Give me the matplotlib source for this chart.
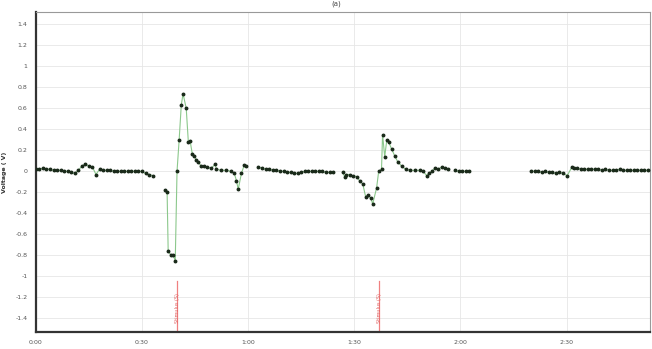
import numpy as np
import matplotlib.pyplot as plt
from matplotlib.ticker import FuncFormatter, MultipleLocator

# time in seconds, voltage in V; NaN marks a gap in the recording
t1 = [0, 1, 2, 3, 4, 5, 6, 7, 8, 9, 10, 11, 12, 13, 14, 15, 16, 17, 18, 19,
      20, 21, 22, 23, 24, 25, 26, 27, 28, 29, 30, 31, 32, 33]
v1 = [0.02, 0.02, 0.03, 0.02, 0.02, 0.01, 0.01, 0.01, 0.0, 0.0, -0.01, -0.02,
      0.01, 0.05, 0.07, 0.05, 0.04, -0.03, 0.02, 0.01, 0.01, 0.01, 0.0, 0.0,
      0.0, 0.0, 0.0, 0.0, 0.0, 0.0, 0.0, -0.02, -0.03, -0.04]

t2 = [36.5, 37.1, 37.4, 38.2, 38.8, 39.4, 39.9, 40.5, 41.1, 41.6, 42.5, 43.1,
      43.6, 44.2, 44.8, 45.3, 45.9, 46.7, 47.6, 48.4, 49.6, 50.7, 51.0, 52.4,
      53.8, 55.2, 56.1, 56.7, 57.2, 58.1, 58.9, 59.5]
v2 = [-0.18, -0.2, -0.76, -0.8, -0.8, -0.85, 0.0, 0.3, 0.63, 0.74, 0.6, 0.28,
      0.29, 0.17, 0.15, 0.11, 0.09, 0.05, 0.05, 0.04, 0.03, 0.07, 0.02, 0.01,
      0.01, 0.0, -0.02, -0.09, -0.17, -0.02, 0.06, 0.05]

t3 = [62.9, 64, 65, 66, 67, 68, 69, 70, 71, 72, 73, 74, 75, 76, 77, 78, 79,
      80, 81, 82, 83, 84]
v3 = [0.04, 0.03, 0.02, 0.02, 0.01, 0.01, 0.0, 0.0, -0.01, -0.01, -0.02,
      -0.02, -0.01, 0.0, 0.0, 0.0, 0.0, 0.0, 0.0, -0.01, -0.01, -0.01]

t4 = [86.7, 87.3, 87.8, 88.7, 89.5, 90.7, 91.5, 92.4, 93.2, 93.8, 94.6, 95.2,
      96.3, 96.9, 97.7, 98.0, 98.6, 99.2, 99.7, 100.6, 101.4, 102.3, 103.4,
      104.5, 105.7, 107.1, 108.5, 109.4, 110.5, 111.1, 111.9, 112.8, 113.6,
      114.7, 115.6, 116.4]
v4 = [-0.01, -0.05, -0.03, -0.03, -0.04, -0.05, -0.09, -0.12, -0.24, -0.23,
      -0.25, -0.31, -0.16, 0.0, 0.02, 0.35, 0.14, 0.3, 0.28, 0.21, 0.15, 0.09,
      0.05, 0.02, 0.01, 0.01, 0.01, 0.0, -0.04, -0.02, 0.0, 0.03, 0.02, 0.04,
      0.03, 0.02]

t5 = [118.5, 119.5, 120.5, 121.5, 122.4]
v5 = [0.01, 0.0, 0.0, 0.0, 0.0]

t6 = [140, 141, 142, 143, 144, 145, 146, 147, 148, 149, 150.2, 151.5, 152,
      153, 154, 155, 156, 157, 158, 159, 160, 161, 162, 163, 164, 165, 166,
      167, 168, 169, 170, 171, 172, 173]
v6 = [0.0, 0.0, 0.0, -0.01, 0.0, -0.01, -0.01, -0.02, -0.01, -0.02, -0.04,
      0.04, 0.03, 0.03, 0.02, 0.02, 0.02, 0.02, 0.02, 0.02, 0.01, 0.02, 0.01,
      0.01, 0.01, 0.02, 0.01, 0.01, 0.01, 0.01, 0.01, 0.01, 0.01, 0.01]

segments = [(t1, v1), (t2, v2), (t3, v3), (t4, v4), (t5, v5), (t6, v6)]

marker_times = [40, 97]
marker_labels = ['Stimulus (S)', 'Stimulus (S)']

fig = plt.figure(figsize=(6.52, 3.49), dpi=100)
ax = fig.add_axes([0.055, 0.049, 0.942, 0.917])

for t, v in segments:
    ax.plot(t, v, color='#8cc88c', lw=0.8, marker='o', ms=1.8,
            mfc='#1a2a1a', mec='#1a2a1a', zorder=3)

for tm, lab in zip(marker_times, marker_labels):
    ax.axvline(tm, ymin=0, ymax=0.16, color='#f08080', lw=0.9, zorder=2)
    ax.text(tm, -1.3, lab, rotation=90, color='#e06060', fontsize=3.5,
            ha='center', va='center', zorder=4)

ax.set_xlim(0, 173.6)
ax.set_ylim(-1.53, 1.52)
ax.xaxis.set_major_locator(MultipleLocator(30))
ax.yaxis.set_major_locator(MultipleLocator(0.2))
ax.xaxis.set_major_formatter(FuncFormatter(
    lambda x, p: '%d:%02d' % (int(x) // 60, int(x) % 60)))
ax.yaxis.set_major_formatter(FuncFormatter(
    lambda y, p: '%g' % round(y, 1)))
ax.tick_params(labelsize=4.5, labelcolor='#555555', length=0, pad=6)
ax.grid(True, color='#e6e6e6', lw=0.6)
ax.set_axisbelow(True)

for side in ['left', 'bottom']:
    ax.spines[side].set_color('#333333')
    ax.spines[side].set_linewidth(1.6)
for side in ['top', 'right']:
    ax.spines[side].set_color('#999999')
    ax.spines[side].set_linewidth(0.8)

ax.set_ylabel('Voltage ( V)', fontsize=4.5, color='#333333',
              fontweight='bold', labelpad=6)
fig.text(0.515, 0.998, '(a)', fontsize=5, ha='center', va='top',
         color='#444444')

fig.savefig('out.png', dpi=100)
